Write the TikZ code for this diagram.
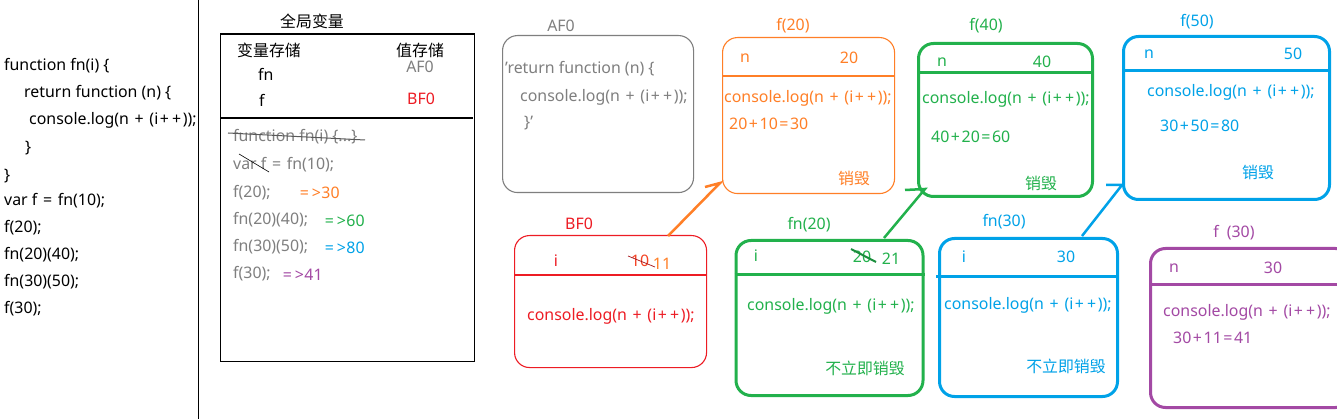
\documentclass[tikz,border=0pt]{standalone}
\usepackage{fontspec}
\setmainfont{Noto Sans}
\newfontfamily\cjk{Noto Sans CJK SC}
\definecolor{orangeC}{RGB}{255,127,39}
\definecolor{greenC}{RGB}{34,177,76}
\definecolor{blueC}{RGB}{0,162,232}
\definecolor{purpleC}{RGB}{163,73,164}
\definecolor{redC}{RGB}{237,28,36}
\definecolor{grayC}{RGB}{127,127,127}
\newcommand\fsz{\fontsize{15.9}{18}\selectfont}
\newcommand\sq{\symbol{39}}
\newcommand\pl{\hspace{0.1em}+\hspace{0.1em}}
\newcommand\eqs{\hspace{0.1em}=\hspace{0.1em}}
\newcommand\gts{\hspace{0.08em}>\hspace{0.04em}}
\newcommand\cl{console.log(n \pl{} (i\pl\pl));}
\tikzset{
 tx/.style={inner sep=0, font=\fsz, anchor=west},
 tc/.style={inner sep=0, font=\fsz},
 thinbox/.style={draw=#1, line width=1.1pt, rounded corners=15pt, inner sep=0, anchor=north west},
 thickbox/.style={draw=#1, line width=3pt, rounded corners=15pt, inner sep=0, anchor=north west},
 sep/.style={draw=#1, line width=1.1pt},
 sepk/.style={draw=#1, line width=3pt},
 conn/.style={draw=#1, line width=2.5pt},
}
\begin{document}
\begin{tikzpicture}[x=1pt,y=-1pt]
\useasboundingbox (0,0) rectangle (1337,419);
\fill[white] (0,0) rectangle (1337,419);
% divider
\coordinate (vtop) at (198.5,0);
\coordinate (vbot) at (198.5,419);
\draw[line width=1.3pt] (vtop) -- (vbot);
% source code
\node[tx] (c1) at (4,66) {function fn(i) \{};
\node[tx] (c2) at (24,93) {return function (n) \{};
\node[tx] (c3) at (29,120) {\cl};
\node[tx] (c4) at (25,148) {\}};
\node[tx] (c5) at (4,176) {\}};
\node[tx] (c6) at (4,201) {var f \eqs{} fn(10);};
\node[tx] (c7) at (4,228) {f(20);};
\node[tx] (c8) at (4,255) {fn(20)(40);};
\node[tx] (c9) at (4,282) {fn(30)(50);};
\node[tx] (c10) at (4,309) {f(30);};
% global box
\node[tc] (gtitle) at (312,21) {\cjk 全局变量};
\node[draw, line width=1.1pt, inner sep=0, minimum width=254pt, minimum height=327pt, anchor=north west] (gbox) at (220,33.5) {};
\draw[line width=1.1pt] (gbox.west |- 0,118) -- (473,118);
\node[tx] (gv) at (237,50) {\cjk 变量存储};
\node[tx] (gs) at (396,50) {\cjk 值存储};
\node[tx] (gfn) at (258,74) {fn};
\node[tx] (gf) at (259,100) {f};
\node[tc, text=grayC] (gaf) at (420,67) {AF0};
\node[tc, text=redC] (gbf) at (421,99) {BF0};
\node[tx, text=grayC] (l1) at (233,137) {function fn(i) \{...\}};
\draw[grayC!70!black, line width=1pt] (228,133) -- (365,140);
\node[tx, text=grayC] (l2) at (233,165) {var f \eqs{} fn(10);};
\draw[black, line width=0.6pt] (239,154) -- (269,172);
\node[tx, text=grayC] (l3) at (233,193) {f(20);};
\node[tx, text=orangeC] (r3) at (298,193) {\eqs\gts 30};
\node[tx, text=grayC] (l4) at (233,220) {fn(20)(40);};
\node[tx, text=greenC] (r4) at (323,221) {\eqs\gts 60};
\node[tx, text=grayC] (l5) at (233,247) {fn(30)(50);};
\node[tx, text=blueC] (r5) at (323,248) {\eqs\gts 80};
\node[tx, text=grayC] (l6) at (233,274) {f(30);};
\node[tx, text=purpleC] (r6) at (281,275) {\eqs\gts 41};
% AF0
\node[tc, text=grayC] (aflbl) at (561,26) {AF0};
\node[thinbox=grayC, minimum width=191pt, minimum height=157pt] (af) at (502,35) {};
\node[tx, text=grayC] (af1) at (505,69) {\sq return function (n) \{};
\node[tx, text=grayC] (af2) at (520,97) {\cl};
\node[tx, text=grayC] (af3) at (524,123) {\}\sq};
% f(20)
\node[tc, text=orangeC] (f20lbl) at (793,26) {f(20)};
\node[thinbox=orangeC, minimum width=172pt, minimum height=156pt] (f20) at (722,37) {};
\draw[sep=orangeC] (f20.west |- 0,76) -- (f20.east |- 0,76);
\node[tc, text=orangeC] (f20n) at (745,58) {n};
\node[tc, text=orangeC] (f20v) at (849,58) {20};
\node[tx, text=orangeC] (f20c) at (724,98) {\cl};
\node[tx, text=orangeC] (f20r) at (729,124) {20\pl 10\eqs 30};
\node[tc, text=orangeC] (f20d) at (854,178) {\cjk 销毁};
% f(40)
\node[tc, text=greenC] (f40lbl) at (986,26) {f(40)};
\node[thickbox=greenC, minimum width=174pt, minimum height=153pt] (f40) at (917,42) {};
\draw[sepk=greenC] (f40.west |- 0,73) -- (1094,73);
\node[tc, text=greenC] (f40n) at (942,62) {n};
\node[tc, text=greenC] (f40v) at (1042,62) {40};
\node[tx, text=greenC] (f40c) at (922,99) {\cl};
\node[tx, text=greenC] (f40r) at (931,137) {40\pl 20\eqs 60};
\node[tc, text=greenC] (f40d) at (1041,183) {\cjk 销毁};
% f(50)
\node[tc, text=blueC] (f50lbl) at (1197,22) {f(50)};
\node[thickbox=blueC, minimum width=206pt, minimum height=163pt] (f50) at (1122,35) {};
\draw[sepk=blueC] (f50.west |- 0,71) -- (f50.east |- 0,71);
\node[tc, text=blueC] (f50n) at (1149,54) {n};
\node[tc, text=blueC] (f50v) at (1293,54) {50};
\node[tx, text=blueC] (f50c) at (1147,92) {\cl};
\node[tx, text=blueC] (f50r) at (1160,126) {30\pl 50\eqs 80};
\node[tc, text=blueC] (f50d) at (1258,172) {\cjk 销毁};
% BF0
\node[tc, text=redC] (bflbl) at (579,224) {BF0};
\node[thinbox=redC, minimum width=192pt, minimum height=132pt] (bf) at (514,235) {};
\draw[sep=redC] (bf.west |- 0,275) -- (bf.east |- 0,275);
\node[tc, text=redC] (bfi) at (556,261) {i};
\node[tc, text=redC!60!orangeC] (bf10) at (640,261) {10};
\node[tc, text=orangeC] (bf11) at (662,264) {11};
\draw[redC!70!black, line width=0.7pt] (628,256) -- (655,267);
\node[tx, text=redC] (bfc) at (527,316) {\cl};
% fn(20)
\node[tc, text=greenC] (fn20lbl) at (809,225) {fn(20)};
\node[thickbox=greenC, minimum width=187pt, minimum height=155pt] (fn20) at (734.5,239) {};
\draw[sepk=greenC] (fn20.west |- 0,275) -- (fn20.east |- 0,275);
\node[tc, text=greenC] (fn20i) at (756,256) {i};
\node[tc, text=greenC] (fn20a) at (862,257) {20};
\node[tc, text=greenC] (fn20b) at (891,259) {21};
\draw[greenC!80!black, line width=2pt] (851,249) -- (876,262);
\node[tx, text=greenC] (fn20c) at (747,306) {\cl};
\node[tc, text=greenC] (fn20d) at (865,368) {\cjk 不立即销毁};
% fn(30)
\node[tc, text=blueC] (fn30lbl) at (1004,222) {fn(30)};
\node[thickbox=blueC, minimum width=178pt, minimum height=158pt] (fn30) at (938,237) {};
\draw[sepk=blueC] (936,277) -- (fn30.east |- 0,277);
\node[tc, text=blueC] (fn30i) at (964,257) {i};
\node[tc, text=blueC] (fn30v) at (1066,257) {30};
\node[tx, text=blueC] (fn30c) at (944,305) {\cl};
\node[tc, text=blueC] (fn30d) at (1066,366) {\cjk 不立即销毁};
% f (30)
\node[tc, text=purpleC] (f30lbl) at (1234,233) {f\hspace{0.5em}(30)};
\node[thickbox=purpleC, minimum width=200pt, minimum height=159pt] (f30) at (1149,247) {};
\draw[sepk=purpleC] (f30.west |- 0,285) -- (1345,285);
\node[tc, text=purpleC] (f30n) at (1174,268) {n};
\node[tc, text=purpleC] (f30v) at (1273,268) {30};
\node[tx, text=purpleC] (f30c) at (1163,312) {\cl};
\node[tx, text=purpleC] (f30r) at (1173,338) {30\pl 11\eqs 41};
% connectors
\coordinate (bfout) at (668,236);
\coordinate (f20in) at (720,183);
\draw[conn=orangeC] (bfout) -- (f20in) -- ++(-15,4);
\coordinate (fn20out) at (884,238);
\coordinate (f40in) at (925,189);
\draw[conn=greenC] (fn20out) -- (f40in) -- ++(-20,1);
\coordinate (fn30out) at (1082,236);
\coordinate (f50in) at (1122,185);
\draw[conn=blueC] (fn30out) -- (f50in) -- ++(-16,0);
\end{tikzpicture}
\end{document}
